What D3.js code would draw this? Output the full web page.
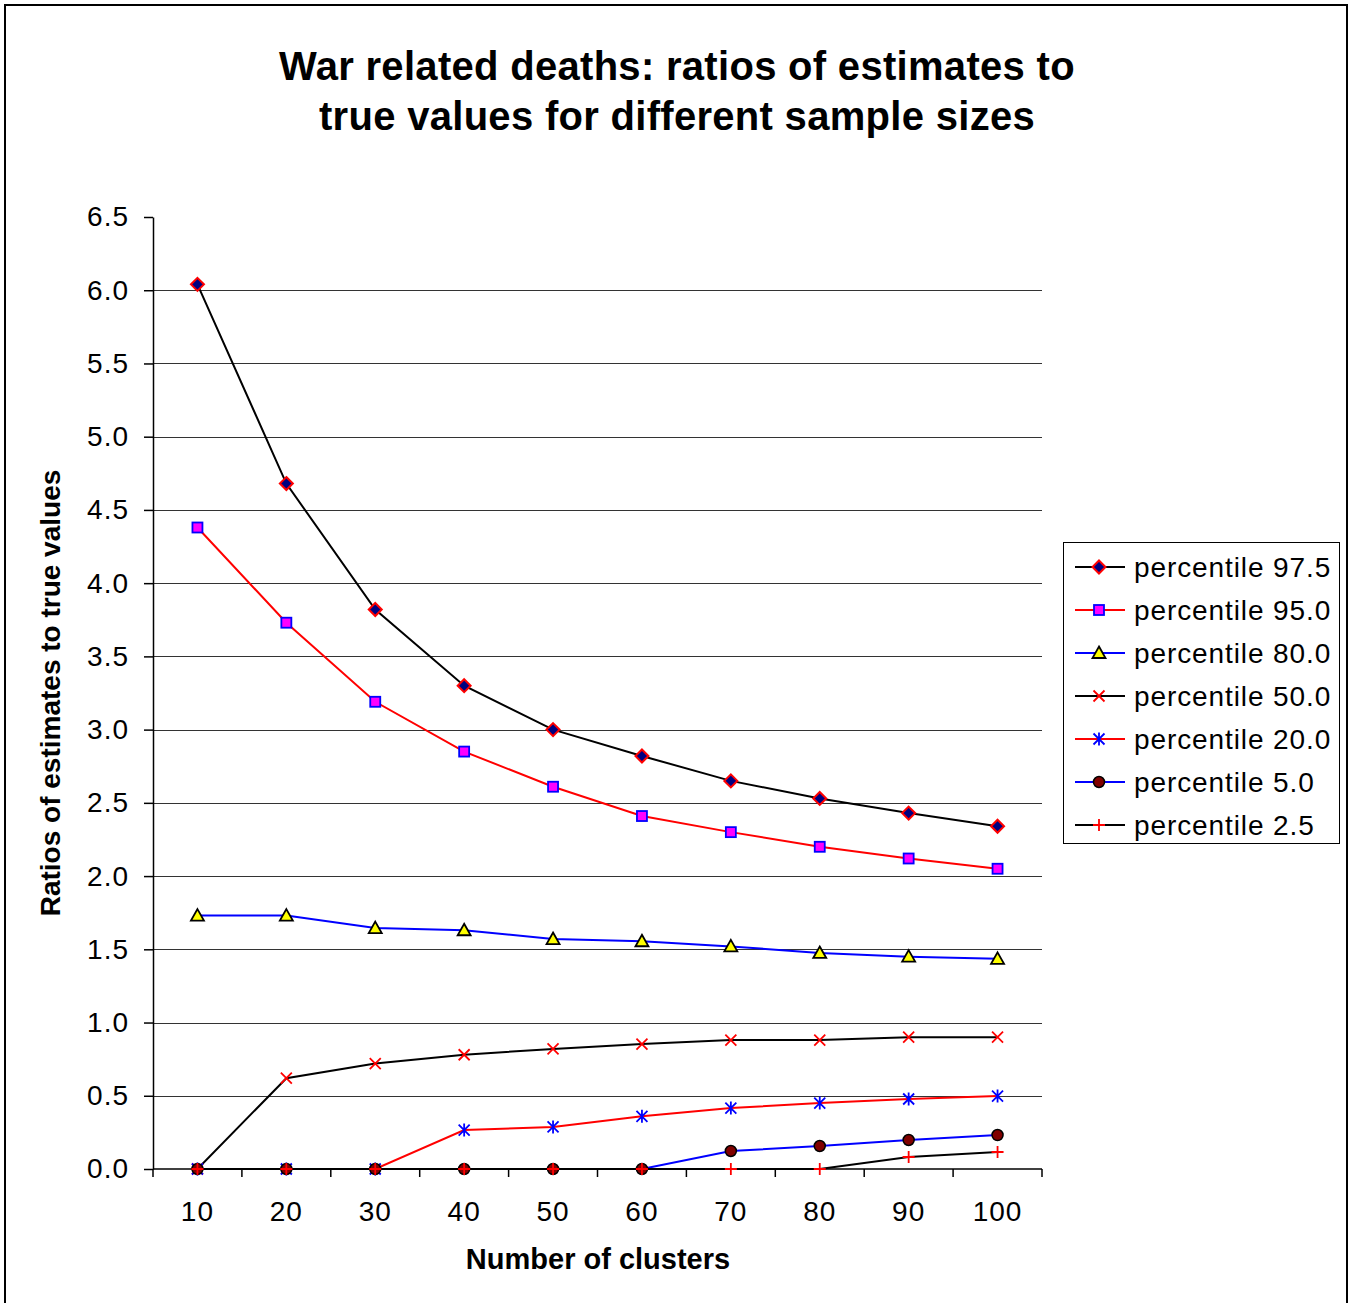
<!DOCTYPE html>
<meta charset="utf-8">
<style>
body { margin: 0; background: #fff; }
text { font-family: "Liberation Sans", Arial, sans-serif; fill: #000; }
.grid line { stroke: #333; stroke-width: 1px; }
.axis path, .axis line { stroke: #000; stroke-width: 1.5px; }
.axis text { font-size: 28px; letter-spacing: 1px; }
</style>
<svg width="1351" height="1303"></svg>
<script src="https://d3js.org/d3.v7.min.js"></script>
<script>

var clusters = [10, 20, 30, 40, 50, 60, 70, 80, 90, 100];
var yTicks = [0, 0.5, 1, 1.5, 2, 2.5, 3, 3.5, 4, 4.5, 5, 5.5, 6, 6.5];

var p975 = [6.04, 4.68, 3.82, 3.30, 3.00, 2.82, 2.65, 2.53, 2.43, 2.34];
var p950 = [4.38, 3.73, 3.19, 2.85, 2.61, 2.41, 2.30, 2.20, 2.12, 2.05];
var p800 = [1.73, 1.73, 1.645, 1.63, 1.57, 1.555, 1.52, 1.475, 1.45, 1.435];
var p500 = [0, 0.62, 0.72, 0.78, 0.82, 0.853, 0.88, 0.88, 0.90, 0.90];
var p200 = [0, 0, 0, 0.266, 0.287, 0.36, 0.416, 0.45, 0.478, 0.498];
var p050 = [0, 0, 0, 0, 0, 0, 0.123, 0.157, 0.198, 0.232];
var p025 = [0, 0, 0, 0, 0, 0, 0, 0, 0.082, 0.116];

var series = [
  {name: "percentile 97.5", values: p975, line: "#000", marker: "diamond", fill: "#000080", stroke: "#f00"},
  {name: "percentile 95.0", values: p950, line: "#f00", marker: "square", fill: "#f0f", stroke: "#00f"},
  {name: "percentile 80.0", values: p800, line: "#00f", marker: "triangle", fill: "#ff0", stroke: "#000"},
  {name: "percentile 50.0", values: p500, line: "#000", marker: "x", fill: "none", stroke: "#f00"},
  {name: "percentile 20.0", values: p200, line: "#f00", marker: "star", fill: "none", stroke: "#00f"},
  {name: "percentile 5.0", values: p050, line: "#00f", marker: "circle", fill: "#800000", stroke: "#000"},
  {name: "percentile 2.5", values: p025, line: "#000", marker: "plus", fill: "none", stroke: "#f00"}
];

var svg = d3.select("svg");

// outer frame
svg.append("rect")
    .attr("x", 5).attr("y", 5)
    .attr("width", 1342).attr("height", 1320)
    .attr("fill", "none").attr("stroke", "#000").attr("stroke-width", 2);

var plotLeft = 153, plotRight = 1042, plotTop = 217, plotBottom = 1169;

var x = d3.scaleBand().domain(clusters).range([plotLeft, plotRight]);
var y = d3.scaleLinear().domain([0, 6.5]).range([plotBottom, plotTop]);

// gridlines
svg.append("g").attr("class", "grid")
  .selectAll("line")
  .data(yTicks.filter(function(d) { return d > 0 && d < 6.5; }))
  .enter().append("line")
    .attr("x1", plotLeft).attr("x2", plotRight)
    .attr("y1", function(d) { return Math.round(y(d)) + 0.5; })
    .attr("y2", function(d) { return Math.round(y(d)) + 0.5; });

// y axis
svg.append("g").attr("class", "axis")
    .attr("transform", "translate(" + plotLeft + ",0)")
    .call(d3.axisLeft(y).tickValues(yTicks).tickFormat(d3.format(".1f")).tickSize(9).tickSizeOuter(0).tickPadding(15));

// x axis with ticks on category boundaries
var xAxis = svg.append("g").attr("class", "axis")
    .attr("transform", "translate(0," + plotBottom + ")");
xAxis.append("line").attr("x1", plotLeft).attr("x2", plotRight).attr("y1", 0).attr("y2", 0);
xAxis.selectAll(".tk")
  .data(d3.range(clusters.length + 1))
  .enter().append("line")
    .attr("x1", function(i) { return plotLeft + i * x.step(); })
    .attr("x2", function(i) { return plotLeft + i * x.step(); })
    .attr("y1", 0).attr("y2", 8);
xAxis.selectAll("text")
  .data(clusters)
  .enter().append("text")
    .attr("x", function(d) { return x(d) + x.bandwidth() / 2; })
    .attr("y", 52)
    .attr("text-anchor", "middle")
    .text(function(d) { return d; });

// titles
svg.append("text")
    .attr("x", 677).attr("y", 80)
    .attr("text-anchor", "middle")
    .style("font-size", "40px").style("font-weight", "bold").style("letter-spacing", "0.3px")
    .text("War related deaths: ratios of estimates to");
svg.append("text")
    .attr("x", 677).attr("y", 130)
    .attr("text-anchor", "middle")
    .style("font-size", "40px").style("font-weight", "bold").style("letter-spacing", "0.3px")
    .text("true values for different sample sizes");
svg.append("text")
    .attr("transform", "translate(60,693) rotate(-90)")
    .attr("text-anchor", "middle")
    .style("font-size", "28px").style("font-weight", "bold")
    .text("Ratios of estimates to true values");
svg.append("text")
    .attr("x", 598).attr("y", 1269)
    .attr("text-anchor", "middle")
    .style("font-size", "29px").style("font-weight", "bold")
    .text("Number of clusters");

function drawMarker(g, type, cx, cy, fill, stroke) {
  var s = 5.5;
  if (type === "diamond") {
    var d = 6.5;
    g.append("path").attr("d", "M" + cx + "," + (cy - d) + "L" + (cx + d) + "," + cy + "L" + cx + "," + (cy + d) + "L" + (cx - d) + "," + cy + "Z")
      .attr("fill", fill).attr("stroke", stroke).attr("stroke-width", 2);
  } else if (type === "square") {
    g.append("rect").attr("x", cx - 5).attr("y", cy - 5).attr("width", 10).attr("height", 10)
      .attr("fill", fill).attr("stroke", stroke).attr("stroke-width", 1.8);
  } else if (type === "triangle") {
    g.append("path").attr("d", "M" + cx + "," + (cy - 6.5) + "L" + (cx + 6.5) + "," + (cy + 5) + "L" + (cx - 6.5) + "," + (cy + 5) + "Z")
      .attr("fill", fill).attr("stroke", stroke).attr("stroke-width", 1.8);
  } else if (type === "x") {
    g.append("path").attr("d", "M" + (cx - s) + "," + (cy - s) + "L" + (cx + s) + "," + (cy + s) + "M" + (cx + s) + "," + (cy - s) + "L" + (cx - s) + "," + (cy + s))
      .attr("fill", "none").attr("stroke", stroke).attr("stroke-width", 1.8);
  } else if (type === "star") {
    g.append("path").attr("d", "M" + (cx - s) + "," + (cy - s) + "L" + (cx + s) + "," + (cy + s) + "M" + (cx + s) + "," + (cy - s) + "L" + (cx - s) + "," + (cy + s) + "M" + cx + "," + (cy - s - 1) + "L" + cx + "," + (cy + s + 1))
      .attr("fill", "none").attr("stroke", stroke).attr("stroke-width", 1.8);
  } else if (type === "circle") {
    g.append("circle").attr("cx", cx).attr("cy", cy).attr("r", 5.5)
      .attr("fill", fill).attr("stroke", stroke).attr("stroke-width", 1.5);
  } else if (type === "plus") {
    g.append("path").attr("d", "M" + (cx - s - 0.5) + "," + cy + "L" + (cx + s + 0.5) + "," + cy + "M" + cx + "," + (cy - s - 0.5) + "L" + cx + "," + (cy + s + 0.5))
      .attr("fill", "none").attr("stroke", stroke).attr("stroke-width", 1.8);
  }
}

var line = d3.line()
    .x(function(d, i) { return x(clusters[i]) + x.bandwidth() / 2; })
    .y(function(d) { return y(d); });

series.forEach(function(s) {
  var g = svg.append("g");
  g.append("path")
    .attr("d", line(s.values))
    .attr("fill", "none")
    .attr("stroke", s.line)
    .attr("stroke-width", 2);
  s.values.forEach(function(v, i) {
    drawMarker(g, s.marker, x(clusters[i]) + x.bandwidth() / 2, y(v), s.fill, s.stroke);
  });
});

// legend
var lg = svg.append("g");
lg.append("rect")
    .attr("x", 1063.5).attr("y", 542.5).attr("width", 276).attr("height", 301)
    .attr("fill", "#fff").attr("stroke", "#000").attr("stroke-width", 1);
series.forEach(function(s, i) {
  var cy = 567 + i * 43;
  lg.append("line").attr("x1", 1075).attr("x2", 1125).attr("y1", cy).attr("y2", cy)
    .attr("stroke", s.line).attr("stroke-width", 2);
  drawMarker(lg, s.marker, 1099, cy, s.fill, s.stroke);
  lg.append("text").attr("x", 1134).attr("y", cy + 10)
    .style("font-size", "28px").style("letter-spacing", "0.9px").text(s.name);
});

</script>
